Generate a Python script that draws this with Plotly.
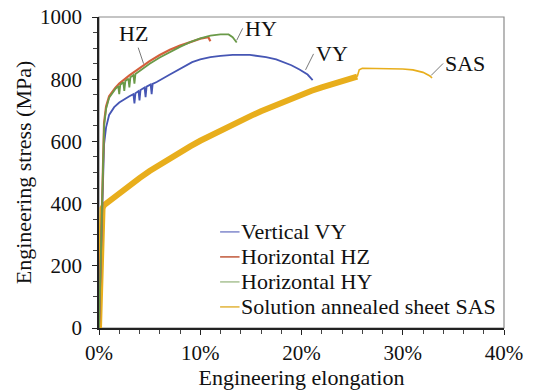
import plotly.graph_objects as go

# Engineering stress-strain curves (strain in %, stress in MPa)
vy_strain = [0, 0.25, 0.4, 0.5, 0.7, 1.0, 1.5, 2.0, 3.0, 3.4, 3.5, 3.6, 3.9, 4.0, 4.1, 4.5, 4.6, 4.7,
             5.1, 5.2, 5.3, 5.7, 7, 8.3, 9.2, 10, 11, 12, 13.2, 14.9, 16.5, 17.5, 18.2, 19.0, 19.8,
             20.6, 21.1]
vy_stress = [0, 300, 500, 590, 645, 685, 710, 725, 745, 752, 722, 755, 762, 732, 765, 773, 742, 776,
             783, 752, 785, 791, 815, 839, 855, 864, 871, 875, 878, 878, 871, 864, 856, 845, 831,
             815, 797]

hz_strain = [0, 0.2, 0.35, 0.5, 0.7, 1.0, 1.6, 2, 3, 4, 5, 6, 7, 8, 9, 10, 10.8, 11.0]
hz_stress = [0, 300, 530, 660, 712, 745, 772, 786, 812, 836, 858, 878, 895, 908, 920, 930, 935, 922]

hy_strain = [0, 0.2, 0.35, 0.5, 0.7, 1.0, 1.6, 1.9, 2.0, 2.1, 2.4, 2.5, 2.6, 2.9, 3.0, 3.1, 3.4, 3.5,
             3.6, 3.8, 4.0, 5, 6, 7, 8, 9, 10, 11, 12, 12.8, 13.2, 13.6]
hy_stress = [0, 300, 520, 650, 705, 740, 768, 778, 752, 782, 790, 762, 794, 802, 774, 806, 813, 786,
             817, 822, 828, 850, 870, 888, 904, 919, 931, 940, 944, 944, 935, 918]

sas_strain = [0, 0.1, 0.25, 0.35, 0.5, 1, 2, 3, 4, 5, 6, 7, 8, 9, 10, 11, 12, 13, 14, 15, 16, 17,
              18, 19, 20, 21, 22, 23, 24, 25, 25.5]
sas_stress = [0, 150, 330, 385, 395, 408, 434, 459, 482, 505, 526, 546, 565, 584, 602, 619, 636, 652,
              667, 682, 697, 711, 725, 738, 751, 763, 774, 784, 794, 803, 808]

sas_tail_strain = [25.5, 25.7, 26, 28, 30, 31, 32, 32.6, 32.9]
sas_tail_stress = [808, 830, 835, 835, 833, 830, 822, 812, 804]

x_ticks = [0, 10, 20, 30, 40]
y_ticks = [0, 200, 400, 600, 800, 1000]

legend_names = ["Vertical VY", "Horizontal HZ", "Horizontal HY", "Solution annealed sheet SAS"]
legend_colors = ["#8088cc", "#c0583a", "#a9c294", "#e2b43a"]

curve_colors = {"VY": "#4656b4", "HZ": "#d4603c", "HY": "#6a9a48", "SAS": "#e8ae1c"}

FAMILY = "serif"


def serif(size):
    return dict(family=FAMILY, size=size, color="#111111")


fig = go.Figure()

fig.add_trace(go.Scatter(x=sas_strain, y=sas_stress, mode="lines",
                         line=dict(color=curve_colors["SAS"], width=6)))
fig.add_trace(go.Scatter(x=sas_tail_strain, y=sas_tail_stress, mode="lines",
                         line=dict(color=curve_colors["SAS"], width=1.6)))
fig.add_trace(go.Scatter(x=vy_strain, y=vy_stress, mode="lines",
                         line=dict(color=curve_colors["VY"], width=1.8)))
fig.add_trace(go.Scatter(x=hz_strain, y=hz_stress, mode="lines",
                         line=dict(color=curve_colors["HZ"], width=2.2)))
fig.add_trace(go.Scatter(x=hy_strain, y=hy_stress, mode="lines",
                         line=dict(color=curve_colors["HY"], width=1.8)))

# Compact legend: short line swatches with labels, tightly stacked
LEG_TOP = 0.309
LEG_STEP = 0.0804
for i, (name, color) in enumerate(zip(legend_names, legend_colors)):
    yc = LEG_TOP - i * LEG_STEP
    fig.add_shape(type="line", xref="paper", yref="paper", x0=0.299, x1=0.347, y0=yc, y1=yc,
                  line=dict(color=color, width=1.5))
    fig.add_annotation(xref="paper", yref="paper", x=0.346, y=yc, text=name, showarrow=False,
                       xanchor="left", yanchor="middle", font=serif(22))

# Curve labels with short leader lines pointing at each curve
labels = [
    ("HZ", 4.4, 850, -10, -30, "center"),
    ("HY", 13.6, 925, 6, -12, "left"),
    ("VY", 20.4, 830, 8, -16, "left"),
    ("SAS", 32.8, 812, 12, -12, "left"),
]
for text, x, y, ax, ay, anchor in labels:
    fig.add_annotation(x=x, y=y, text=text, showarrow=True, arrowhead=0, arrowwidth=0.8,
                       arrowcolor="#555555", ax=ax, ay=ay, xanchor=anchor, font=serif(22))

fig.add_shape(type="rect", xref="paper", yref="paper", x0=0, y0=0, x1=1, y1=1,
              line=dict(color="#8a8a8a", width=1.2), layer="below")

fig.update_layout(
    width=533, height=392,
    margin=dict(l=99, r=29, t=17, b=64, autoexpand=False),
    plot_bgcolor="white", paper_bgcolor="white",
    font=serif(21),
    showlegend=False,
    xaxis=dict(range=[0, 40], tickvals=x_ticks, ticktext=[f"{v}%" for v in x_ticks],
               tickfont=serif(21), automargin=True,
               showgrid=False, zeroline=False, showline=True, linecolor="#222222", linewidth=1.5,
               ticks="outside", ticklen=5, tickcolor="#222222",
               minor=dict(dtick=2, ticks="outside", ticklen=4, tickcolor="#444444"),
               title=dict(text="Engineering elongation", standoff=4, font=serif(22))),
    yaxis=dict(range=[0, 1000], tickvals=y_ticks, tickfont=serif(21), ticklabelstandoff=6,
               automargin=True,
               showgrid=False, zeroline=False, showline=True, linecolor="#222222", linewidth=1.5,
               ticks="outside", ticklen=5, tickcolor="#222222",
               minor=dict(dtick=50, ticks="outside", ticklen=4, tickcolor="#444444"),
               title=dict(text="Engineering stress (MPa)", standoff=2, font=serif(22))),
)

fig.write_html("out.html")
